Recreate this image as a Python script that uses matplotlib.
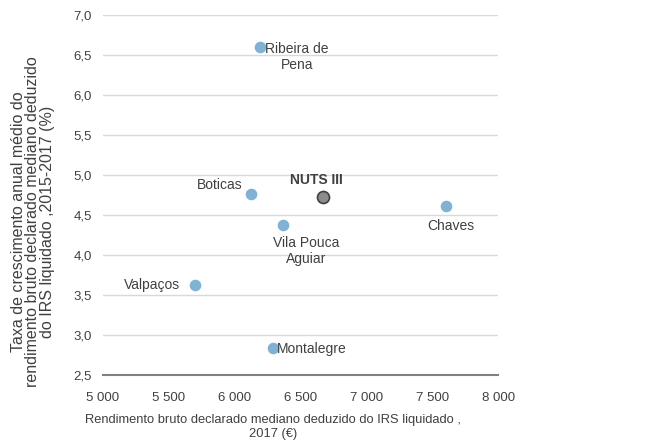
import matplotlib
matplotlib.use("Agg")
import matplotlib.pyplot as plt
from matplotlib.ticker import FuncFormatter

plt.rcParams['font.family'] = ['Liberation Sans', 'DejaVu Sans']

names = ["Ribeira de\nPena", "Boticas", "Vila Pouca\nAguiar", "Chaves", "Valpaços", "Montalegre"]
income = [6192, 6127, 6369, 7605, 5701, 6294]
growth = [6.60, 4.77, 4.38, 4.61, 3.625, 2.84]
nuts_name = "NUTS III"
nuts_income = 6673
nuts_growth = 4.73

# label offsets (pixels) and alignment
offsets = [(37, -10, 'center'), (-32, 9, 'center'), (23, -26, 'center'),
           (5, -20, 'center'), (-15, 0, 'right'), (4, -1, 'left')]

txt = '#404040'
W, H = 646, 445
fig = plt.figure(figsize=(W / 100, H / 100), dpi=100)
ax = fig.add_axes([0.159, 0.157, 0.612, 0.809])

ax.scatter(income, growth, s=70, color='#7FB2D5', zorder=3, linewidths=0)
ax.scatter([nuts_income], [nuts_growth], s=75, color='#8C8C8C', edgecolors='#404040',
           linewidths=1.2, zorder=3)

for n, x, y, (dx, dy, ha) in zip(names, income, growth, offsets):
    ax.annotate(n, (x, y), xytext=(dx, dy), textcoords='offset pixels', ha=ha, va='center',
                multialignment='center', fontsize=10, color=txt, linespacing=1.2)
ax.annotate(nuts_name, (nuts_income, nuts_growth), xytext=(-7, 17), textcoords='offset pixels',
            ha='center', va='center', fontsize=10, color=txt, fontweight='bold')

ax.set_xlim(5000, 8000)
ax.set_ylim(2.5, 7.0)
ax.set_xticks([5000, 5500, 6000, 6500, 7000, 7500, 8000])
ax.set_yticks([2.5, 3.0, 3.5, 4.0, 4.5, 5.0, 5.5, 6.0, 6.5, 7.0])
ax.xaxis.set_major_formatter(FuncFormatter(lambda v, p: f"{int(v):,}".replace(",", " ")))
ax.yaxis.set_major_formatter(FuncFormatter(lambda v, p: f"{v:.1f}".replace(".", ",")))
ax.tick_params(axis='both', length=0, labelsize=9.5, labelcolor=txt)
ax.tick_params(axis='x', pad=12)
ax.tick_params(axis='y', pad=8)
ax.grid(axis='y', color='#D9D9D9', linewidth=1)
ax.set_axisbelow(True)
for s in ['top', 'right', 'left']:
    ax.spines[s].set_visible(False)
ax.spines['bottom'].set_color('#808080')
ax.spines['bottom'].set_linewidth(1.5)

fig.text(273 / W, 1 - 427 / H,
         "Rendimento bruto declarado mediano deduzido do IRS liquidado ,\n2017 (€)",
         ha='center', va='center', multialignment='center',
         fontsize=9.3, color=txt, linespacing=1.3)
fig.text(33 / W, 1 - 222 / H,
         "Taxa de crescimento anual médio do\nrendimento bruto declarado mediano deduzido\ndo IRS liquidado ,2015-2017 (%)",
         ha='center', va='center', multialignment='center', rotation=90,
         fontsize=11.5, color=txt, linespacing=0.95)

fig.savefig("out.png", dpi=100)
